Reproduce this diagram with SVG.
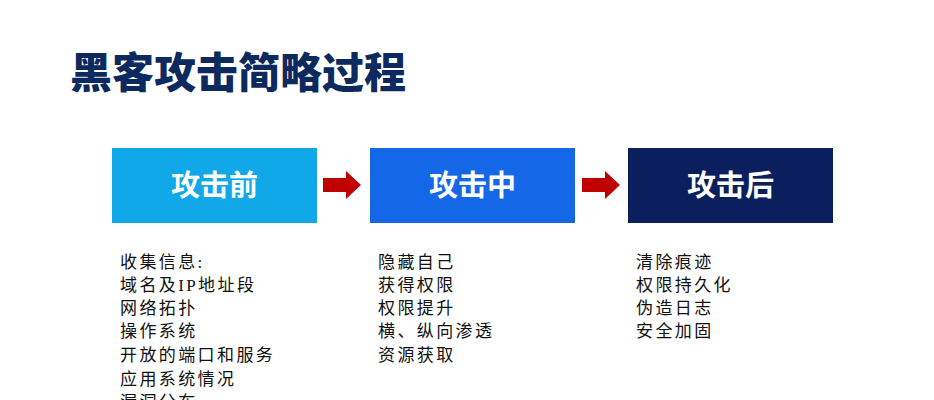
<svg xmlns="http://www.w3.org/2000/svg" width="934" height="400" viewBox="0 0 934 400">
<style>
.t{font-family:"Noto Sans CJK SC",sans-serif;font-weight:bold;fill:#fff;font-size:29px;text-anchor:middle}
.b{font-family:"Liberation Serif","Noto Sans CJK SC",serif;font-size:17px;fill:#111;letter-spacing:2.4px}
</style>
<rect width="934" height="400" fill="#fff"/>
<text x="70" y="88" font-family="'Noto Sans CJK SC',sans-serif" font-weight="900" font-size="42" fill="#0d2a5e">黑客攻击简略过程</text>
<g id="n1"><rect x="112" y="148" width="205" height="75" fill="#10a8e8"/><text class="t" x="214.5" y="196">攻击前</text></g>
<g id="n2"><rect x="370" y="148" width="205" height="75" fill="#1467e6"/><text class="t" x="472.5" y="196">攻击中</text></g>
<g id="n3"><rect x="628" y="148" width="205" height="75" fill="#0b1f5e"/><text class="t" x="730.5" y="196">攻击后</text></g>
<g id="connectors" fill="#c00000">
<polygon points="323,178 346,178 346,171 361,185 346,199 346,192 323,192"/>
<polygon points="582,178 605,178 605,171 620,185 605,199 605,192 582,192"/>
</g>
<g id="list1">
<text class="b" x="120" y="268">收集信息:</text>
<text class="b" x="120" y="291">域名及IP地址段</text>
<text class="b" x="120" y="314">网络拓扑</text>
<text class="b" x="120" y="337">操作系统</text>
<text class="b" x="120" y="361">开放的端口和服务</text>
<text class="b" x="120" y="385">应用系统情况</text>
<text class="b" x="120" y="408">漏洞分布</text>
</g>
<g id="list2">
<text class="b" x="378" y="268">隐藏自己</text>
<text class="b" x="378" y="291">获得权限</text>
<text class="b" x="378" y="314">权限提升</text>
<text class="b" x="378" y="337">横、纵向渗透</text>
<text class="b" x="378" y="361">资源获取</text>
</g>
<g id="list3">
<text class="b" x="636" y="268">清除痕迹</text>
<text class="b" x="636" y="291">权限持久化</text>
<text class="b" x="636" y="314">伪造日志</text>
<text class="b" x="636" y="337">安全加固</text>
</g>
</svg>
